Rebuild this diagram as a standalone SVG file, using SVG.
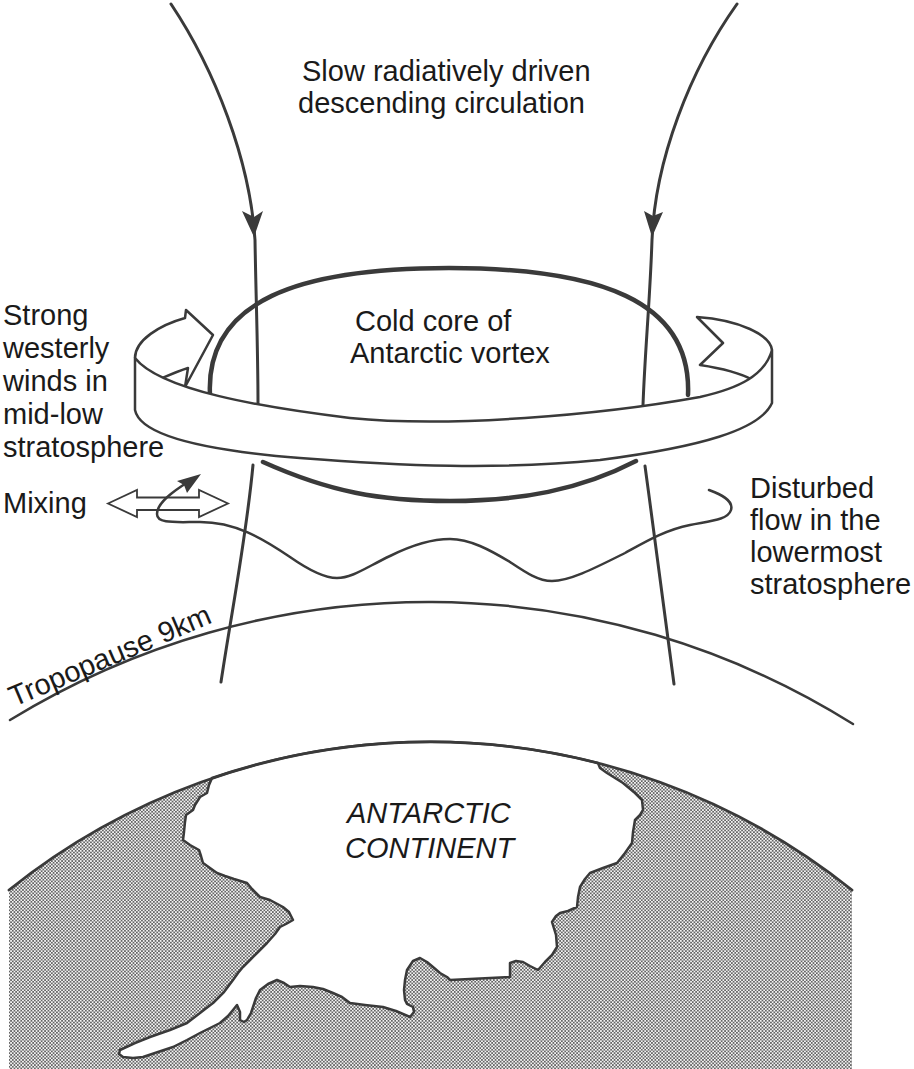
<svg xmlns="http://www.w3.org/2000/svg" width="914" height="1069" viewBox="0 0 914 1069">
<defs>
<pattern id="dots" width="3.4" height="3.4" patternUnits="userSpaceOnUse">
<rect width="3.4" height="3.4" fill="#f4f4f4"/>
<circle cx="0.85" cy="0.85" r="0.85" fill="#333333"/>
<circle cx="2.55" cy="2.55" r="0.85" fill="#333333"/>
</pattern>
<style>
.ln{fill:none;stroke:#3a3a3a;stroke-linecap:round;stroke-linejoin:round}
.t{font-family:"Liberation Sans",Arial,sans-serif;font-size:29px;fill:#1a1a1a}
.it{font-style:italic}
.rb{fill:#ffffff;stroke:#3a3a3a;stroke-width:2.5;stroke-linejoin:round}
.ah{fill:#3a3a3a;stroke:none}
</style>
</defs>
<rect width="914" height="1069" fill="#ffffff"/>

<g id="globe">
<path d="M9,890 A674,674 0 0 1 852,890 L852,1069 L9,1069 Z" fill="url(#dots)"/>
<path id="continent" d="M212,778 L209,785 L207,793 L200,797 L195,805 L193,810 L186,815 L185,822 L184,832 L183,840 L190,845 L199,850 L201,856 L203,863 L210,868 L217,873 L225,876 L234,879 L247,883 L252,889 L260,897 L270,900 L283,907 L289,912 L293,920 L286,924 L280,927 L275,934 L267,943 L258,952 L250,960 L243,967 L238,973 L233,980 L224,992 L213,1003 L200,1013 L187,1023 L170,1030 L150,1037 L135,1043 L120,1050 L119,1054 L123,1057 L133,1058 L143,1057 L158,1052 L173,1047 L187,1040 L200,1033 L210,1028 L220,1023 L228,1016 L233,1010 L237,1005 L240,1012 L240,1020 L244,1022 L247,1020 L251,1013 L253,1007 L256,998 L260,990 L268,984 L277,980 L284,983 L290,987 L300,986 L313,987 L323,989 L333,993 L342,997 L350,1003 L365,1005 L383,1007 L396,1011 L410,1017 L414,1012 L413,1007 L407,1004 L405,1000 L404,990 L405,980 L407,970 L413,961 L420,958 L427,962 L433,967 L440,973 L447,977 L450,980 L470,979 L490,978 L510,977 L510,970 L510,963 L516,961 L523,962 L530,966 L538,970 L545,962 L552,955 L557,947 L556,935 L552,922 L556,916 L560,913 L568,911 L577,907 L578,897 L580,887 L585,879 L590,873 L603,868 L617,863 L625,853 L632,843 L633,832 L635,820 L640,815 L643,810 L642,800 L635,793 L623,783 L615,778 L607,773 L600,768 L598,763 A674,674 0 0 0 212,778 Z" fill="#ffffff" stroke="#3a3a3a" stroke-width="2.5" stroke-linejoin="round"/>
<path class="ln" d="M9,890 A674,674 0 0 1 852,890" stroke-width="2.8"/>
</g>

<g id="tropopause">
<path class="ln" d="M10,720 A800,800 0 0 1 853,724" stroke-width="2.5"/>
</g>

<g id="connectors">
<path class="ln" d="M253,465 C246,540 231,615 221,682" stroke-width="3"/>
<path class="ln" d="M645,466 C655,540 665,615 674,684" stroke-width="3"/>
<path class="ln" d="M263,462 C330,492 380,501 450,501 C520,501 580,490 636,461" stroke-width="4.5"/>
<path id="mixing" d="M108,503.5 L137,490 L137,497.5 L199,497.5 L199,490 L228,503.5 L199,517 L199,510 L137,510 L137,517 Z" fill="#ffffff" stroke="#3a3a3a" stroke-width="1.8" stroke-linejoin="miter"/>
<path class="ln" d="M188,482 C172,492 157,503 157,514 C157,524 175,522 200,522 C235,522 262,538 290,557 C310,571 325,578 337,578 C352,578 365,568 390,556 C410,546 430,539 450,539 C470,539 490,550 510,562 C525,572 538,581 552,581 C570,581 595,568 625,553 C645,542 665,530 690,525 C710,521 728,520 731,510 C734,500 720,494 709,490" stroke-width="2.5"/>
<polygon class="ah" points="201,474 177,481 184,485 187,493"/>
<path class="ln" d="M171,4 C215,70 250,160 255,240 C256,300 258,350 258,405" stroke-width="3"/>
<polygon class="ah" points="242,211 254,217 263,211 254,237"/>
<path class="ln" d="M737,4 C690,70 655,160 652,240 C650,300 645,350 643,405" stroke-width="3"/>
<polygon class="ah" points="644,211 653,216 663,212 652,237"/>
</g>

<g id="vortex-core">
<path class="ln" d="M210,395 C205,300 300,268 449,268 C598,268 692,300 688,395" stroke-width="4.5"/>
</g>

<g id="westerly-ribbon">
<path class="rb" d="M135,358 C135,340 160,325 185,318 L186,310 L213,335 L185,387 L188,368 C175,372 163,378 153,382"/>
<path class="rb" d="M772,350 C770,335 740,320 697,317 L723,343 L700,365 C720,368 740,373 753,380"/>
<path class="rb" d="M135,358 C160,390 260,407 350,418 C450,428 600,415 700,397 C740,388 765,375 772,350 L772,403 C760,430 700,447 600,460 C500,470 400,466 300,458 C200,450 140,435 135,410 Z"/>
</g>

<g id="labels">
<text class="t" x="302" y="81">Slow radiatively driven</text>
<text class="t" x="298" y="113">descending circulation</text>
<text class="t" x="355" y="331">Cold core of</text>
<text class="t" x="350" y="363">Antarctic vortex</text>
<text class="t" x="3" y="325">Strong</text>
<text class="t" x="3" y="358">westerly</text>
<text class="t" x="3" y="391">winds in</text>
<text class="t" x="3" y="424">mid-low</text>
<text class="t" x="3" y="457">stratosphere</text>
<text class="t" x="3" y="513">Mixing</text>
<text class="t" x="750" y="498">Disturbed</text>
<text class="t" x="750" y="530">flow in the</text>
<text class="t" x="750" y="562">lowermost</text>
<text class="t" x="750" y="594">stratosphere</text>
<text class="t" transform="translate(14,707) rotate(-23)">Tropopause 9km</text>
<text class="t it" x="347" y="823">ANTARCTIC</text>
<text class="t it" x="345" y="858">CONTINENT</text>
</g>
</svg>
